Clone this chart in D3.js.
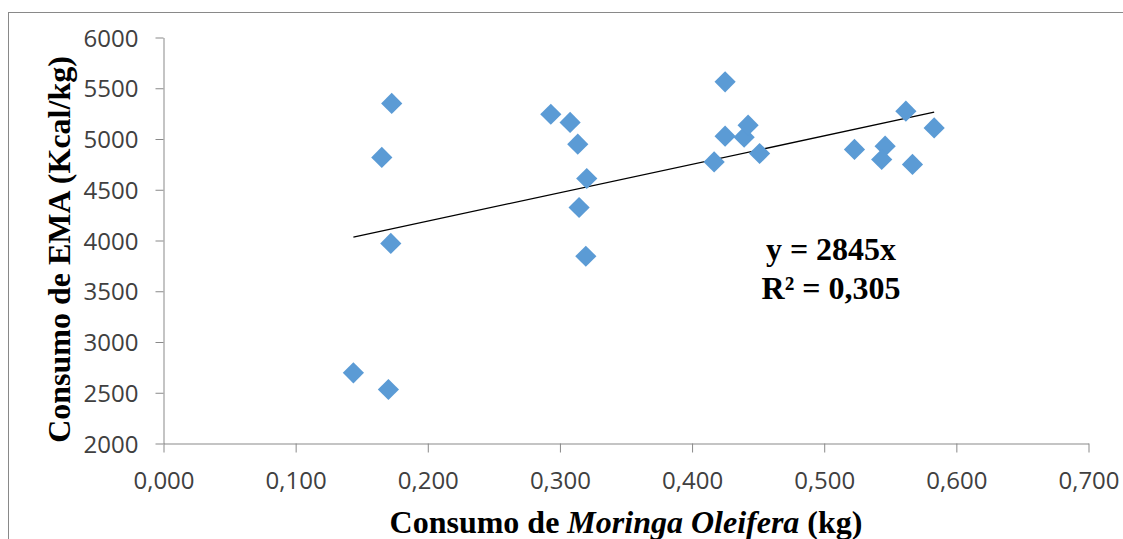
<!DOCTYPE html>
<html lang="pt">
<head>
    <meta charset="UTF-8">
    <title>Consumo de EMA x Moringa</title>
    <script src="https://d3js.org/d3.v7.min.js"></script>
    <style>
        body {margin: 0; background: #fff;}
        .tick text {
            font-family: "Open Sans", sans-serif;
            font-size: 24px;
            fill: #404040;
        }
        .title {
            font-family: "Liberation Serif", "Times New Roman", serif;
            font-weight: bold;
            fill: #000;
        }
    </style>
</head>
<body>
<script>
    const width = 1123;
    const height = 539;

    // consumo de moringa (kg) e consumo de EMA (Kcal/kg)
    const moringa = [0.1727, 0.1652, 0.1720, 0.1437, 0.1702,
                     0.2931, 0.3077, 0.3135, 0.3203, 0.3145, 0.3196,
                     0.4250, 0.4250, 0.4394, 0.4424, 0.4167, 0.4511,
                     0.5229, 0.5461, 0.5435, 0.5668, 0.5618, 0.5832];
    const ema     = [5350, 4818, 3971, 2696, 2532,
                     5244, 5163, 4949, 4611, 4325, 3845,
                     5563, 5028, 5018, 5136, 4774, 4857,
                     4897, 4929, 4798, 4749, 5274, 5109];

    const xTicks = [0, 0.1, 0.2, 0.3, 0.4, 0.5, 0.6, 0.7];
    const xTickLabels = ["0,000", "0,100", "0,200", "0,300", "0,400", "0,500", "0,600", "0,700"];
    const yTicks = [2000, 2500, 3000, 3500, 4000, 4500, 5000, 5500, 6000];
    const yTickLabels = ["2000", "2500", "3000", "3500", "4000", "4500", "5000", "5500", "6000"];
    const equation = ["y = 2845x", "R² = 0,305"];

    const points = moringa.map((m, i) => ({x: m, y: ema[i]}));

    const svg = d3.select("body").append("svg")
            .attr("width", width).attr("height", height);

    // chart frame
    svg.append("rect")
            .attr("x", 8.5).attr("y", 12.5)
            .attr("width", 1200).attr("height", 600)
            .style("fill", "none")
            .style("stroke", "#898989")
            .style("stroke-width", 1);

    const x = d3.scaleLinear().domain([0, 0.7]).range([163.5, 1088.5]);
    const y = d3.scaleLinear().domain([2000, 6000]).range([443.5, 37.5]);

    const xAxis = d3.axisBottom(x)
            .tickValues(xTicks)
            .tickFormat((d, i) => xTickLabels[i])
            .tickSize(9).tickSizeOuter(0);

    const yAxis = d3.axisLeft(y)
            .tickValues(yTicks)
            .tickFormat((d, i) => yTickLabels[i])
            .tickSize(8).tickSizeOuter(0);

    const gx = svg.append("g")
            .attr("transform", `translate(0,${y(2000)})`)
            .call(xAxis);
    gx.selectAll("text").attr("y", 45).attr("dy", 0);

    const gy = svg.append("g")
            .attr("transform", `translate(${x(0)},0)`)
            .call(yAxis);
    gy.selectAll("text").attr("x", -25).attr("dy", 8.5);

    svg.selectAll(".domain, .tick line")
            .style("stroke", "#898989")
            .style("stroke-width", 1);

    // linear trend line (least squares)
    const mx = d3.mean(points, d => d.x);
    const my = d3.mean(points, d => d.y);
    const slope = d3.sum(points, d => (d.x - mx) * (d.y - my)) / d3.sum(points, d => (d.x - mx) ** 2);
    const icpt = my - slope * mx;
    const ext = d3.extent(points, d => d.x);

    svg.append("line")
            .attr("x1", x(ext[0])).attr("y1", y(icpt + slope * ext[0]))
            .attr("x2", x(ext[1])).attr("y2", y(icpt + slope * ext[1]))
            .style("stroke", "#000")
            .style("stroke-width", 1.3);

    // diamonds
    const diamond = d3.symbol().type(d3.symbolSquare).size(225);
    svg.append("g").selectAll("path")
            .data(points)
            .enter()
            .append("path")
            .attr("d", diamond)
            .attr("transform", d => `translate(${x(d.x)},${y(d.y)}) rotate(45)`)
            .style("fill", "#5B9BD5");

    // equation label
    svg.append("text").attr("class", "title")
            .attr("text-anchor", "middle")
            .style("font-size", "32px")
            .selectAll("tspan")
            .data(equation)
            .enter()
            .append("tspan")
            .attr("x", 831)
            .attr("y", (d, i) => 260 + i * 39)
            .text(d => d);

    // axis titles
    const xt = svg.append("text").attr("class", "title")
            .attr("x", (x(0) + x(0.7)) / 2).attr("y", 533)
            .attr("text-anchor", "middle")
            .style("font-size", "32px");
    xt.append("tspan").text("Consumo de ");
    xt.append("tspan").style("font-style", "italic").text("Moringa Oleifera");
    xt.append("tspan").text(" (kg)");

    svg.append("text").attr("class", "title")
            .attr("transform", "translate(70,249.5) rotate(-90)")
            .attr("text-anchor", "middle")
            .style("font-size", "32px")
            .text("Consumo de EMA (Kcal/kg)");
</script>
</body>
</html>
